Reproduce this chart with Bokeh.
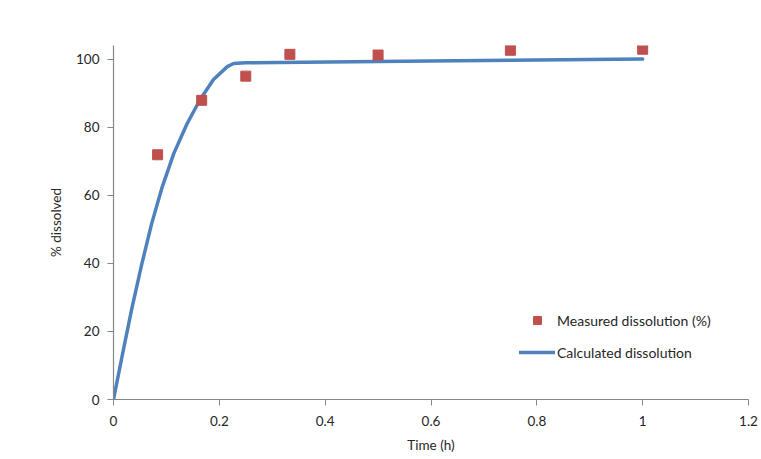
from bokeh.plotting import figure
from bokeh.models import Range1d, Legend, LegendItem, FixedTicker
from bokeh.embed import file_html
from bokeh.resources import INLINE

# Measured dissolution (%)
measured_time = [1/12, 1/6, 0.25, 1/3, 0.5, 0.75, 1.0]
measured_pct = [71.9, 87.9, 95.0, 101.4, 101.2, 102.6, 102.9]

# Calculated dissolution curve
calc_time = [0.0, 0.017, 0.035, 0.053, 0.072, 0.092, 0.114, 0.139, 0.164,
             0.189, 0.215, 0.227, 0.25, 0.5, 0.75, 1.0]
calc_pct = [0.0, 13.3, 27.0, 39.5, 51.6, 62.4, 72.3, 81.0, 88.2,
            94.0, 97.8, 98.7, 98.9, 99.3, 99.7, 100.0]

x_ticks = [0, 0.2, 0.4, 0.6, 0.8, 1.0, 1.2]
x_tick_labels = {0: "0", 0.2: "0.2", 0.4: "0.4", 0.6: "0.6", 0.8: "0.8", 1.0: "1", 1.2: "1.2"}
y_ticks = [0, 20, 40, 60, 80, 100]

FONT = "Lato"
AXIS_COLOR = "#868686"
TEXT_COLOR = "#262626"

p = figure(width=761, height=459, output_backend="svg", toolbar_location=None,
           x_range=Range1d(0, 1.2), y_range=Range1d(0, 104),
           min_border_left=113, min_border_right=13, min_border_top=45, min_border_bottom=60)
p.outline_line_color = None
p.grid.visible = False
p.background_fill_color = "white"
p.border_fill_color = "white"

line_r = p.line(calc_time, calc_pct, line_color="#4F81BD", line_width=3.5,
                line_join="round", line_cap="round")
sq_r = p.scatter(measured_time, measured_pct, marker="square", size=10,
                 fill_color="#C0504D", line_color="#C0504D")

for ax in (p.xaxis[0], p.yaxis[0]):
    ax.axis_line_color = AXIS_COLOR
    ax.axis_line_width = 1.2
    ax.major_tick_line_color = AXIS_COLOR
    ax.major_tick_out = 6
    ax.major_tick_in = 0
    ax.minor_tick_line_color = None
    ax.major_label_text_font = FONT
    ax.major_label_text_font_size = "13.5px"
    ax.major_label_text_color = TEXT_COLOR
    ax.axis_label_text_font = FONT
    ax.axis_label_text_font_size = "13.5px"
    ax.axis_label_text_font_style = "normal"
    ax.axis_label_text_color = TEXT_COLOR

p.xaxis.ticker = FixedTicker(ticks=x_ticks)
p.xaxis.major_label_overrides = x_tick_labels
p.xaxis.major_label_standoff = 10
p.xaxis.axis_label = "Time (h)"
p.xaxis.axis_label_standoff = 8

p.yaxis.ticker = FixedTicker(ticks=y_ticks)
p.yaxis.major_label_standoff = 8
p.yaxis.axis_label = "% dissolved"
p.yaxis.axis_label_standoff = 9

legend = Legend(items=[LegendItem(label="Measured dissolution (%)", renderers=[sq_r]),
                       LegendItem(label="Calculated dissolution", renderers=[line_r])],
                location=(406, 37))
legend.border_line_color = None
legend.background_fill_alpha = 0
legend.padding = 0
legend.margin = 0
legend.spacing = 12
legend.glyph_width = 36
legend.glyph_height = 20
legend.label_height = 20
legend.label_standoff = 2
legend.label_text_font = FONT
legend.label_text_font_size = "14px"
legend.label_text_color = TEXT_COLOR
p.add_layout(legend)

html = file_html(p, INLINE)
open("out.html", "w").write(html)
